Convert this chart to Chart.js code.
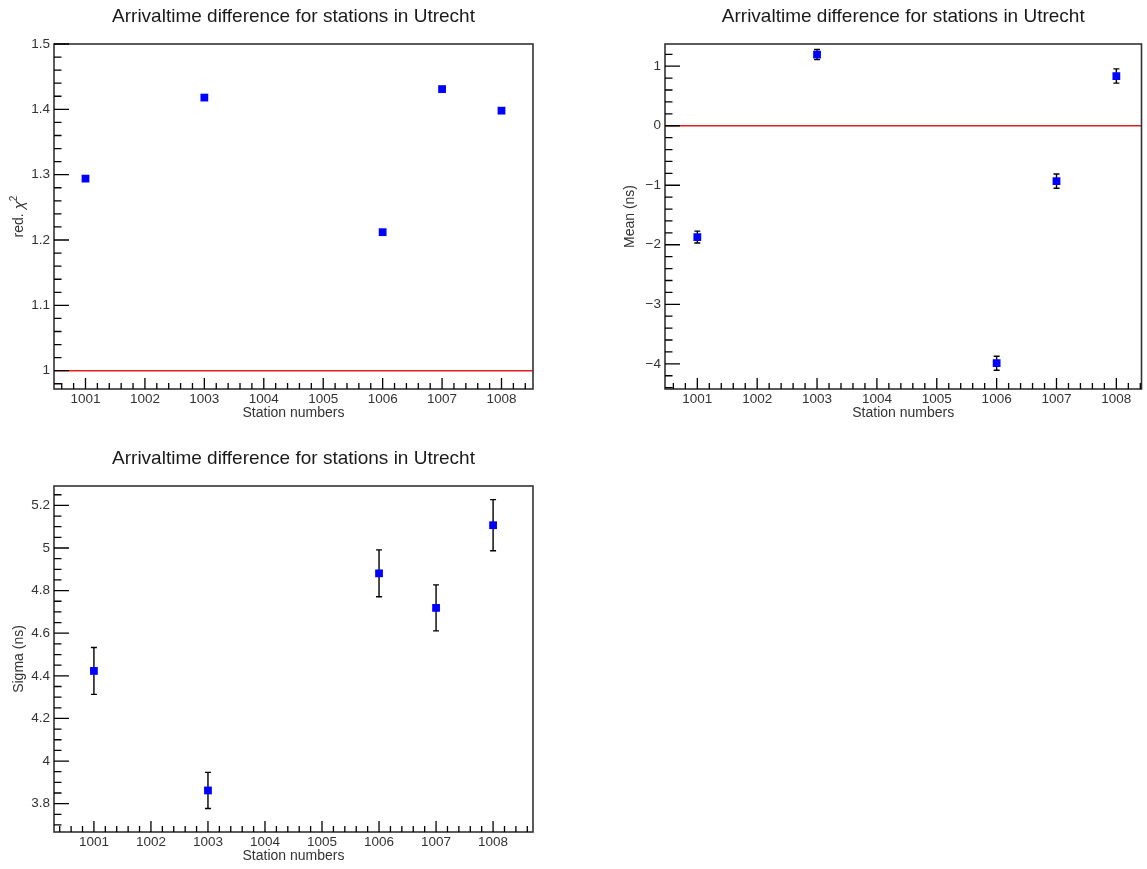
<!DOCTYPE html>
<html>
<head>
<meta charset="utf-8">
<title>Arrivaltime difference for stations in Utrecht</title>
<script src="https://cdn.jsdelivr.net/npm/chart.js@4.4.1/dist/chart.umd.min.js"></script>
<style>
  body { margin: 0; background: #fff; }
  canvas { position: absolute; }
</style>
</head>
<body>
<canvas id="chi2Pad" style="left:0;top:0" width="573" height="434"></canvas>
<canvas id="meanPad" style="left:573px;top:0" width="574" height="434"></canvas>
<canvas id="sigmaPad" style="left:0;top:434px" width="573" height="435"></canvas>
<script>
const stations = [1001, 1003, 1006, 1007, 1008];
const chi2 = [1.294, 1.418, 1.212, 1.431, 1.398];
const meanNs = [-1.87, 1.195, -3.99, -0.93, 0.835];
const meanErr = [0.10, 0.085, 0.117, 0.12, 0.12];
const sigmaNs = [4.423, 3.862, 4.881, 4.719, 5.107];
const sigmaErr = [0.11, 0.085, 0.11, 0.108, 0.12];

// tick labels
const stationTicks = [1001, 1002, 1003, 1004, 1005, 1006, 1007, 1008];
const chi2Ticks = [1, 1.1, 1.2, 1.3, 1.4, 1.5];
const meanTicks = [-4, -3, -2, -1, 0, 1];
const sigmaTicks = [3.8, 4, 4.2, 4.4, 4.6, 4.8, 5, 5.2];

// reference lines
const chi2Ref = 1;
const meanRef = 0;

const TITLE = 'Arrivaltime difference for stations in Utrecht';
const FONT = '"Liberation Sans", Arial, Helvetica, sans-serif';
Chart.defaults.font.family = FONT;

function minorTicks(min, max, step) {
    const out = [];
    for (let i = Math.ceil(min / step - 1e-6); i * step <= max + 1e-6; i++) out.push(i * step);
    return out;
}

function fmt(v) {
    return String(+v.toFixed(3)).replace('-', '\u2212');
}

// ROOT look: frame, inward ticks, error bars, titles
const rootStyle = {
    id: 'rootStyle',
    beforeDatasetsDraw(chart, args, opts) {
        if (!opts.errors) return;
        const { ctx, scales: { y } } = chart;
        const meta = chart.getDatasetMeta(0);
        ctx.save();
        ctx.strokeStyle = '#000';
        ctx.lineWidth = 1.4;
        ctx.beginPath();
        meta.data.forEach((pt, i) => {
            const v = chart.data.datasets[0].data[i].y;
            const yHi = y.getPixelForValue(v + opts.errors[i]);
            const yLo = y.getPixelForValue(v - opts.errors[i]);
            ctx.moveTo(pt.x, yHi); ctx.lineTo(pt.x, yLo);
            ctx.moveTo(pt.x - 3, yHi); ctx.lineTo(pt.x + 3, yHi);
            ctx.moveTo(pt.x - 3, yLo); ctx.lineTo(pt.x + 3, yLo);
        });
        ctx.stroke();
        ctx.restore();
    },
    afterDraw(chart, args, opts) {
        const { ctx, chartArea: a, scales: { x, y } } = chart;
        ctx.save();
        ctx.strokeStyle = '#333';
        ctx.lineWidth = 1.6;
        ctx.strokeRect(a.left, a.top, a.right - a.left, a.bottom - a.top);

        ctx.strokeStyle = '#000';
        ctx.lineWidth = 1.3;
        ctx.beginPath();
        minorTicks(x.min, x.max, 0.2).forEach(v => {
            const px = x.getPixelForValue(v);
            ctx.moveTo(px, a.bottom); ctx.lineTo(px, a.bottom - 6);
        });
        x.ticks.forEach(t => {
            const px = x.getPixelForValue(t.value);
            ctx.moveTo(px, a.bottom); ctx.lineTo(px, a.bottom - 11);
        });
        minorTicks(y.min, y.max, opts.yMinor).forEach(v => {
            const py = y.getPixelForValue(v);
            ctx.moveTo(a.left, py); ctx.lineTo(a.left + 7.5, py);
        });
        y.ticks.forEach(t => {
            const py = y.getPixelForValue(t.value);
            ctx.moveTo(a.left, py); ctx.lineTo(a.left + 15, py);
        });
        ctx.stroke();

        const cx = (a.left + a.right) / 2;
        ctx.fillStyle = '#1a1a1a';
        ctx.textAlign = 'center';
        ctx.textBaseline = 'alphabetic';
        ctx.font = '19px ' + FONT;
        ctx.fillText(TITLE, cx, a.top - 22);

        ctx.font = '14px ' + FONT;
        ctx.fillStyle = '#333';
        ctx.textBaseline = 'middle';
        ctx.fillText('Station numbers', cx, a.bottom + 24.5);

        // y title, rotated
        ctx.translate(a.left - 35, (a.top + a.bottom) / 2);
        ctx.rotate(-Math.PI / 2);
        if (opts.chiTitle) {
            const w1 = ctx.measureText('red. ').width;
            ctx.font = 'italic 15px ' + FONT;
            const w2 = ctx.measureText('\u03c7').width;
            ctx.font = '10px ' + FONT;
            const w3 = ctx.measureText('2').width;
            let sx = -(w1 + w2 + w3) / 2;
            ctx.textAlign = 'left';
            ctx.font = '14px ' + FONT;
            ctx.fillText('red. ', sx, 0);
            ctx.font = 'italic 15px ' + FONT;
            ctx.fillText('\u03c7', sx + w1, 1);
            ctx.font = '10px ' + FONT;
            ctx.fillText('2', sx + w1 + w2, -5);
        } else {
            ctx.fillText(opts.yTitle, 0, 0);
        }
        ctx.restore();
    }
};

function makePad(id, p) {
    const points = stations.map((s, i) => ({ x: s, y: p.values[i] }));
    const datasets = [{
        data: points,
        pointStyle: 'rect',
        pointRadius: 5.5,
        backgroundColor: '#0000ff',
        borderColor: '#0000ff',
        borderWidth: 0,
        showLine: false
    }];
    if (p.refY !== undefined) {
        datasets.push({
            type: 'line',
            data: [{ x: p.xMin, y: p.refY }, { x: p.xMax, y: p.refY }],
            borderColor: 'rgb(225,30,30)',
            borderWidth: 1.5,
            pointRadius: 0
        });
    }
    new Chart(document.getElementById(id), {
        type: 'scatter',
        data: { datasets },
        plugins: [rootStyle],
        options: {
            responsive: false,
            animation: false,
            events: [],
            layout: { padding: p.padding },
            plugins: {
                legend: { display: false },
                tooltip: { enabled: false },
                rootStyle: { errors: p.errors, yMinor: p.yMinor, yTitle: p.yTitle, chiTitle: p.chiTitle }
            },
            scales: {
                x: {
                    type: 'linear',
                    min: p.xMin, max: p.xMax,
                    grid: { display: false, drawTicks: false },
                    border: { display: false },
                    afterBuildTicks: s => { s.ticks = stationTicks.map(v => ({ value: v })); },
                    afterFit: s => { s.height = p.xHeight; },
                    ticks: {
                        autoSkip: false, maxRotation: 0, padding: 2,
                        color: '#333', font: { size: 13.5 },
                        callback: v => String(v)
                    }
                },
                y: {
                    type: 'linear',
                    min: p.yMin, max: p.yMax,
                    grid: { display: false, drawTicks: false },
                    border: { display: false },
                    afterBuildTicks: s => { s.ticks = p.yTicks.map(v => ({ value: v })); },
                    afterFit: s => { s.width = p.yWidth; },
                    ticks: {
                        autoSkip: false, padding: 4,
                        color: '#333', font: { size: 13.5 },
                        callback: v => fmt(v)
                    }
                }
            }
        }
    });
}

makePad('chi2Pad', {
    values: chi2, yTicks: chi2Ticks, yMin: 0.972, yMax: 1.5, yMinor: 0.02,
    xMin: 1000.47, xMax: 1008.53, refY: chi2Ref, chiTitle: true,
    padding: { top: 44, right: 40, left: 0, bottom: 0 }, yWidth: 54, xHeight: 45
});

makePad('meanPad', {
    values: meanNs, errors: meanErr, yTicks: meanTicks, yMin: -4.423, yMax: 1.373, yMinor: 0.2,
    xMin: 1000.46, xMax: 1008.42, refY: meanRef, yTitle: 'Mean (ns)',
    padding: { top: 44, right: 5, left: 0, bottom: 0 }, yWidth: 92, xHeight: 45
});

makePad('sigmaPad', {
    values: sigmaNs, errors: sigmaErr, yTicks: sigmaTicks, yMin: 3.667, yMax: 5.291, yMinor: 0.05,
    xMin: 1000.3, xMax: 1008.7, yTitle: 'Sigma (ns)',
    padding: { top: 52, right: 40, left: 0, bottom: 0 }, yWidth: 54, xHeight: 37
});
</script>
</body>
</html>
